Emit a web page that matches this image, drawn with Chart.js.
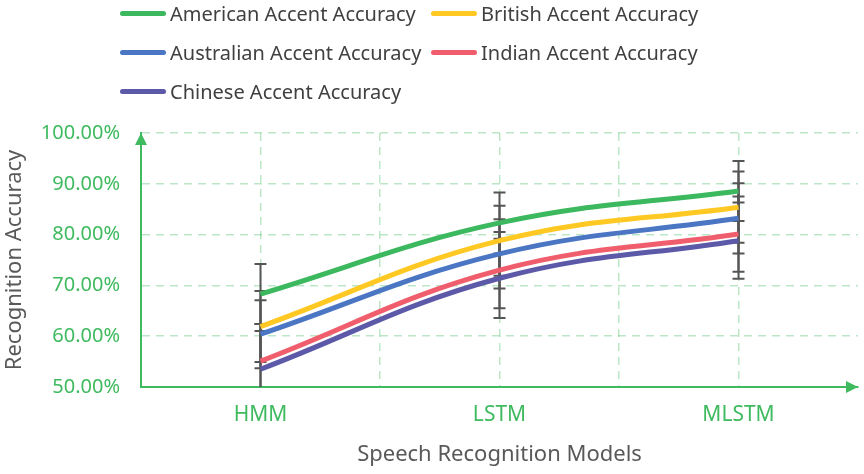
<!DOCTYPE html>
<html>
<head>
<meta charset="utf-8">
<script src="https://cdn.jsdelivr.net/npm/chart.js@4.4.1/dist/chart.umd.min.js"></script>
<style>
  html, body { margin: 0; padding: 0; background: #fff; }
  #wrap { position: relative; width: 864px; height: 474px; }
  #legend { position: absolute; left: 0; top: 0; width: 864px; height: 110px;
            font-family: "Noto Sans", sans-serif; font-size: 20px; color: #404040; }
  .item { position: absolute; display: flex; align-items: center; height: 26px; white-space: nowrap; }
  .swatch { width: 46px; height: 5px; border-radius: 3px; margin-right: 4px; }
</style>
</head>
<body>
<div id="wrap">
  <canvas id="chart" width="864" height="474"></canvas>
  <div id="legend"></div>
</div>
<script>
// data
var models = ['HMM', 'LSTM', 'MLSTM'];
var seriesNames = ['American Accent Accuracy', 'British Accent Accuracy', 'Australian Accent Accuracy',
                   'Indian Accent Accuracy', 'Chinese Accent Accuracy'];
var american   = [68.3, 82.3, 88.6];
var british    = [61.9, 78.8, 85.4];
var australian = [60.4, 76.2, 83.2];
var indian     = [55.1, 73.0, 80.1];
var chinese    = [53.5, 71.4, 78.8];
var americanErr   = [5.9, 6.0, 5.9];
var britishErr    = [7.0, 6.9, 7.0];
var australianErr = [6.7, 6.8, 6.9];
var indianErr     = [7.3, 7.5, 7.4];
var chineseErr    = [7.5, 7.8, 7.5];
var yTicks = [50, 60, 70, 80, 90, 100];

var colors = ['#3cb85e', '#ffc823', '#4a76c4', '#f05d6c', '#5c5aa8'];
var green = '#3fba5f';
var gridGreen = 'rgba(63, 186, 95, 0.35)';
var font = '"Noto Sans", sans-serif';

var values = [american, british, australian, indian, chinese];
var errors = [americanErr, britishErr, australianErr, indianErr, chineseErr];

var datasets = values.map(function(vals, i) {
    return {
        label: seriesNames[i],
        data: vals.map(function(v, j) { return {x: j, y: v}; }),
        errors: errors[i],
        borderColor: colors[i],
        backgroundColor: colors[i],
        borderWidth: 5,
        pointRadius: 0,
        tension: 0.4,
        fill: false
    };
});

// html legend in a two column grid
var legendEl = document.getElementById('legend');
seriesNames.forEach(function(name, i) {
    var col = i % 2, row = Math.floor(i / 2);
    var item = document.createElement('div');
    item.className = 'item';
    item.style.left = [120, 431][col] + 'px';
    item.style.top = (39 * row) + 'px';
    var sw = document.createElement('span');
    sw.className = 'swatch';
    sw.style.background = colors[i];
    var tx = document.createElement('span');
    tx.textContent = name;
    item.appendChild(sw);
    item.appendChild(tx);
    legendEl.appendChild(item);
});

var errorBars = {
    id: 'errorBars',
    beforeDatasetsDraw(chart) {
        let ctx = chart.ctx, area = chart.chartArea;
        let xs = chart.scales.x, ys = chart.scales.y;
        ctx.save();
        ctx.beginPath();
        ctx.rect(area.left, area.top - 20, area.right - area.left, area.bottom - area.top + 20);
        ctx.clip();
        ctx.strokeStyle = '#555555';
        ctx.lineWidth = 2;
        chart.data.datasets.forEach(ds => {
            ds.data.forEach((p, j) => {
                let e = ds.errors[j];
                let px = xs.getPixelForValue(p.x);
                let top = ys.getPixelForValue(p.y + e);
                let bot = ys.getPixelForValue(p.y - e);
                ctx.beginPath();
                ctx.moveTo(px, top); ctx.lineTo(px, bot);
                ctx.moveTo(px - 6, top); ctx.lineTo(px + 6, top);
                ctx.moveTo(px - 6, bot); ctx.lineTo(px + 6, bot);
                ctx.stroke();
            });
        });
        ctx.restore();
    }
};

var axisArrows = {
    id: 'axisArrows',
    afterDraw(chart) {
        let ctx = chart.ctx, a = chart.chartArea;
        ctx.save();
        ctx.fillStyle = green;
        ctx.beginPath();
        ctx.moveTo(a.left, a.top);
        ctx.lineTo(a.left - 6, a.top + 12);
        ctx.lineTo(a.left + 6, a.top + 12);
        ctx.closePath();
        ctx.fill();
        ctx.beginPath();
        ctx.moveTo(a.right, a.bottom);
        ctx.lineTo(a.right - 12, a.bottom - 6);
        ctx.lineTo(a.right - 12, a.bottom + 6);
        ctx.closePath();
        ctx.fill();
        ctx.restore();
    }
};

new Chart(document.getElementById('chart').getContext('2d'), {
    type: 'line',
    data: { datasets: datasets },
    plugins: [errorBars, axisArrows],
    options: {
        responsive: false,
        animation: false,
        layout: { padding: { top: 133, right: 6, left: 0, bottom: 0 } },
        plugins: { legend: { display: false }, tooltip: { enabled: false } },
        scales: {
            x: {
                type: 'linear',
                min: -0.5,
                max: 2.5,
                afterFit(scale) {
                    scale.height = 87;
                    scale.paddingLeft = 0;
                    scale.paddingRight = 0;
                },
                grid: {
                    drawTicks: false,
                    lineWidth: 1.5,
                    color: c => (c.tick && (c.tick.value === -0.5 || c.tick.value === 2.5)) ? 'transparent' : gridGreen
                },
                border: { color: green, width: 2, dash: [8, 6] },
                ticks: {
                    stepSize: 0.5,
                    autoSkip: false,
                    maxRotation: 0,
                    padding: 15,
                    color: green,
                    font: { family: font, size: 21 },
                    callback: v => Number.isInteger(v) && models[v] ? models[v] : ''
                },
                title: {
                    display: true,
                    text: 'Speech Recognition Models',
                    color: '#595959',
                    padding: { top: 0, bottom: 6 },
                    font: { family: font, size: 22 }
                }
            },
            y: {
                min: yTicks[0],
                max: yTicks[yTicks.length - 1],
                afterFit(scale) {
                    scale.width = 141;
                    scale.paddingTop = 0;
                    scale.paddingBottom = 0;
                },
                grid: {
                    drawTicks: false,
                    lineWidth: 1.5,
                    color: c => (c.tick && c.tick.value === yTicks[0]) ? 'transparent' : gridGreen
                },
                border: { color: green, width: 2, dash: [8, 6] },
                ticks: {
                    stepSize: 10,
                    padding: 21,
                    color: green,
                    font: { family: font, size: 20 },
                    callback: v => v.toFixed(2) + '%'
                },
                title: {
                    display: true,
                    text: 'Recognition Accuracy',
                    color: '#595959',
                    padding: { top: 2, bottom: 0 },
                    font: { family: font, size: 22 }
                }
            }
        }
    }
});
</script>
</body>
</html>
